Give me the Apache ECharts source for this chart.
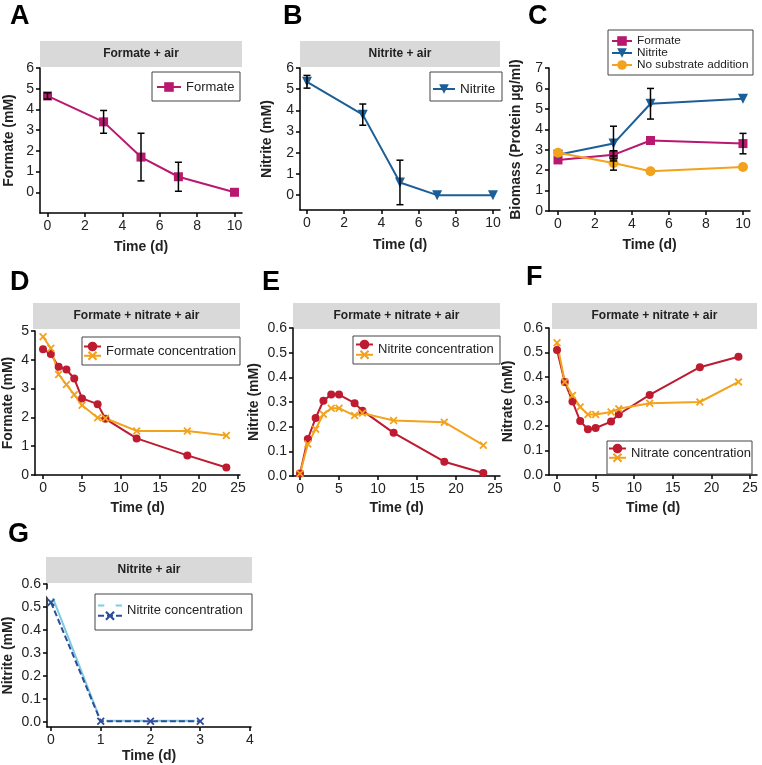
<!DOCTYPE html>
<html>
<head>
<meta charset="utf-8">
<script src="https://cdn.jsdelivr.net/npm/echarts@6/dist/echarts.min.js"></script>
<style>
  html, body { margin: 0; background: #fff; }
  #chart { width: 762px; height: 765px; }
</style>
</head>
<body>
<div id="chart"></div>
<script>
// ---- data ----
// A: formate + air
const timeA = [0, 3, 5, 7, 10];
const formateA = [4.65, 3.4, 1.7, 0.75, 0.0];
const formateAErr = [0.15, 0.55, 1.15, 0.7, 0];
// B: nitrite + air
const timeB = [0, 3, 5, 7, 10];
const nitriteB = [5.35, 3.8, 0.6, 0, 0];
const nitriteBErr = [0.3, 0.5, 1.05, 0, 0];
// C: biomass
const timeC = [0, 3, 5, 10];
const formateC = [2.5, 2.75, 3.45, 3.3];
const formateCErr = [0, 0.2, 0, 0.5];
const nitriteC = [2.75, 3.3, 5.25, 5.5];
const nitriteCErr = [0, 0.85, 0.75, 0];
const noSubC = [2.85, 2.35, 1.95, 2.15];
const noSubCErr = [0, 0.35, 0, 0];
// D-F: formate + nitrate + air
const timeDEF = [0, 1, 2, 3, 4, 5, 7, 8, 12, 18.5, 23.5];
const formateD1 = [4.37, 4.2, 3.76, 3.66, 3.35, 2.66, 2.46, 1.95, 1.27, 0.68, 0.26];
const formateD2 = [4.8, 4.4, 3.49, 3.14, 2.79, 2.42, 1.99, 1.97, 1.53, 1.53, 1.37];
const nitriteE1 = [0.01, 0.15, 0.235, 0.305, 0.33, 0.33, 0.295, 0.265, 0.175, 0.058, 0.012];
const nitriteE2 = [0.01, 0.13, 0.19, 0.25, 0.275, 0.275, 0.245, 0.255, 0.225, 0.218, 0.125];
const nitrateF1 = [0.51, 0.38, 0.3, 0.22, 0.187, 0.192, 0.218, 0.248, 0.327, 0.44, 0.483];
const nitrateF2 = [0.54, 0.38, 0.325, 0.278, 0.247, 0.247, 0.257, 0.27, 0.293, 0.298, 0.38];
// G: nitrite + air
const timeG = [0, 1, 2, 3];
const nitriteG1 = [0.56, 0.005, 0.005, 0.005];
const nitriteG2 = [0.52, 0.003, 0.003, 0.003];

// tick labels
const ticksTime10 = [0, 2, 4, 6, 8, 10];
const ticksTime25 = [0, 5, 10, 15, 20, 25];
const ticksTime4 = [0, 1, 2, 3, 4];
const ticksY5 = [0, 1, 2, 3, 4, 5];
const ticksY6 = [0, 1, 2, 3, 4, 5, 6];
const ticksY7 = [0, 1, 2, 3, 4, 5, 6, 7];
const ticksY06 = [0, 0.1, 0.2, 0.3, 0.4, 0.5, 0.6];

const FONT = '"Liberation Sans", Arial, sans-serif';
const MAGENTA = '#b8186f', BLUE = '#1b5e98', ORANGE = '#f3a21c', RED = '#be1a30';
const LIGHTBLUE = '#7fcbe0', DARKBLUE = '#2c4c9c';
const XMARK = 'path://M0,1.6 L1.6,0 L5,3.4 L8.4,0 L10,1.6 L6.6,5 L10,8.4 L8.4,10 L5,6.6 L1.6,10 L0,8.4 L3.4,5 Z';

const zip = (xs, ys) => xs.map((x, i) => [x, ys[i]]);
const errData = (xs, ys, es) => xs.map((x, i) => [x, ys[i] - es[i], ys[i] + es[i]]).filter((d, i) => es[i] > 0);

function xAxis(grid, min, max, ticks, gap) {
  return {
    type: 'value', gridIndex: grid, min, max,
    name: 'Time (d)', nameLocation: 'middle', nameGap: gap,
    nameTextStyle: { fontFamily: FONT, fontWeight: 'bold', fontSize: 14, color: '#222' },
    axisLine: { onZero: false, lineStyle: { color: '#000', width: 1.5 } },
    axisTick: { show: true, length: 4, customValues: ticks, lineStyle: { color: '#000', width: 1.5 } },
    axisLabel: { customValues: ticks, fontFamily: FONT, fontSize: 14, color: '#222', margin: 6 },
    splitLine: { show: false }
  };
}
function yAxis(grid, min, max, ticks, name, gap, decimals) {
  return {
    type: 'value', gridIndex: grid, min, max,
    name, nameLocation: 'middle', nameGap: gap,
    nameTextStyle: { fontFamily: FONT, fontWeight: 'bold', fontSize: 14, color: '#222' },
    axisLine: { onZero: false, lineStyle: { color: '#000', width: 1.5 } },
    axisTick: { show: true, length: 4, customValues: ticks, lineStyle: { color: '#000', width: 1.5 } },
    axisLabel: {
      customValues: ticks, fontFamily: FONT, fontSize: 14, color: '#222', margin: 6,
      formatter: v => decimals ? v.toFixed(1) : String(v)
    },
    splitLine: { show: false }
  };
}

function errorBars(params, api) {
  const x = api.value(0);
  const lo = api.coord([x, api.value(1)]);
  const hi = api.coord([x, api.value(2)]);
  const cap = 3.5;
  const style = { stroke: '#000', lineWidth: 1.5 };
  return {
    type: 'group', children: [
      { type: 'line', shape: { x1: lo[0], y1: lo[1], x2: hi[0], y2: hi[1] }, style },
      { type: 'line', shape: { x1: lo[0] - cap, y1: lo[1], x2: lo[0] + cap, y2: lo[1] }, style },
      { type: 'line', shape: { x1: hi[0] - cap, y1: hi[1], x2: hi[0] + cap, y2: hi[1] }, style }
    ]
  };
}
function errSeries(idx, data) {
  return { type: 'custom', xAxisIndex: idx, yAxisIndex: idx, renderItem: errorBars, data, z: 4, silent: true };
}
function line(idx, name, data, color, symbol, size, extra) {
  return Object.assign({
    type: 'line', name, xAxisIndex: idx, yAxisIndex: idx, data,
    symbol, symbolSize: size, color, lineStyle: { width: 2, color },
    itemStyle: { color }, z: 3, animation: false
  }, extra || {});
}

function header(x, y, w, h, text) {
  return {
    type: 'group', children: [
      { type: 'rect', shape: { x, y, width: w, height: h }, style: { fill: '#d9d9d9' } },
      { type: 'text', style: { x: x + w / 2, y: y + h / 2, text, align: 'center', verticalAlign: 'middle',
        font: 'bold 12px ' + FONT, fill: '#222' } }
    ]
  };
}
function letter(x, y, text) {
  return { type: 'text', style: { x, y, text, font: 'bold 27px ' + FONT, fill: '#000' } };
}
function box(x, y, w, h) {
  return { type: 'rect', shape: { x, y, width: w, height: h }, style: { fill: 'none', stroke: '#444', lineWidth: 1 }, z: 10 };
}

const legendText = { fontFamily: FONT, fontSize: 13, lineHeight: 14, color: '#222' };
function singleLegend(left, top, names, iconW, size, lh) {
  return {
    left, top, orient: 'vertical', data: names, padding: 0, itemGap: 0,
    itemWidth: iconW, itemHeight: 12, selectedMode: false,
    textStyle: Object.assign({}, legendText, { fontSize: size, lineHeight: lh || 14 })
  };
}
function pairLegend(left, c1, c2, iconW, name1, name2, label) {
  return [
    {
      left, top: c1 - 12, data: [name1], padding: 0, itemWidth: iconW, itemHeight: 12, selectedMode: false,
      formatter: () => '{t|' + label + '}',
      textStyle: { rich: { t: Object.assign({}, legendText, { padding: [10, 0, 0, 0] }) } }
    },
    {
      left, top: c2 - 6, data: [name2], padding: 0, itemWidth: iconW, itemHeight: 12, selectedMode: false,
      formatter: () => '', textStyle: legendText
    }
  ];
}

const chart = echarts.init(document.getElementById('chart'));

const option = {
  backgroundColor: '#fff',
  animation: false,
  grid: [
    { left: 40, top: 68, width: 202, height: 145 },   // A
    { left: 300, top: 68, width: 200, height: 142 },  // B
    { left: 549, top: 68, width: 201, height: 143 },  // C
    { left: 35, top: 331, width: 205, height: 144 },  // D
    { left: 293, top: 328, width: 207, height: 148 }, // E
    { left: 549, top: 328, width: 208, height: 147 }, // F
    { left: 46, top: 584, width: 205, height: 143 }   // G
  ],
  xAxis: [
    xAxis(0, -0.4, 10.4, ticksTime10, 27),
    xAxis(1, -0.376, 10.38, ticksTime10, 28),
    xAxis(2, -0.486, 10.38, ticksTime10, 27),
    xAxis(3, -1.03, 25.25, ticksTime25, 26),
    xAxis(4, -0.9, 25.64, ticksTime25, 25),
    xAxis(5, -1.04, 25.9, ticksTime25, 26),
    xAxis(6, -0.08, 4.02, ticksTime4, 22)
  ],
  yAxis: [
    yAxis(0, -1, 6, ticksY6, 'Formate (mM)', 24),
    yAxis(1, -0.7, 6, ticksY6, 'Nitrite (mM)', 26),
    yAxis(2, 0, 7, ticksY7, 'Biomass (Protein µg/ml)', 26),
    yAxis(3, 0, 5, ticksY5, 'Formate (mM)', 20),
    yAxis(4, 0, 0.6, ticksY06, 'Nitrite (mM)', 32, true),
    yAxis(5, 0, 0.6, ticksY06, 'Nitrate (mM)', 34, true),
    yAxis(6, -0.022, 0.6, ticksY06, 'Nitrite (mM)', 32, true)
  ],
  legend: [
    singleLegend(156, 80, ['Formate'], 24, 13),
    singleLegend(432, 82, ['Nitrite'], 22, 13.5),
    singleLegend(611, 35, ['Formate', 'Nitrite', 'No substrate addition'], 20, 11.8, 12),
    ...pairLegend(83, 347, 357, 17, 'Formate concentration', 'Formate concentration 2', 'Formate concentration'),
    ...pairLegend(355, 345, 356, 17, 'Nitrite concentration', 'Nitrite concentration 2', 'Nitrite concentration'),
    ...pairLegend(608, 449, 459, 17, 'Nitrate concentration', 'Nitrate concentration 2', 'Nitrate concentration'),
    ...pairLegend(97, 606, 617, 24, 'G nitrite 1', 'G nitrite 2', 'Nitrite concentration')
  ],
  graphic: [
    letter(10, 3, 'A'), letter(283, 3, 'B'), letter(528, 3, 'C'),
    letter(10, 269, 'D'), letter(262, 269, 'E'), letter(526, 264, 'F'),
    letter(8, 521, 'G'),
    header(40, 41, 202, 26, 'Formate + air'),
    header(300, 41, 200, 26, 'Nitrite + air'),
    header(33, 303, 207, 26, 'Formate + nitrate + air'),
    header(293, 303, 207, 26, 'Formate + nitrate + air'),
    header(552, 303, 205, 26, 'Formate + nitrate + air'),
    header(46, 557, 206, 26, 'Nitrite + air'),
    box(152, 72, 88, 29),
    box(430, 72, 72, 29),
    box(608, 30, 145, 45),
    box(82, 337, 158, 28),
    box(353, 336, 147, 28),
    box(607, 441, 145, 33),
    box(95, 594, 157, 36)
  ],
  series: [
    // A
    errSeries(0, errData(timeA, formateA, formateAErr)),
    line(0, 'Formate', zip(timeA, formateA), MAGENTA, 'rect', 9),
    // B
    errSeries(1, errData(timeB, nitriteB, nitriteBErr)),
    line(1, 'Nitrite', zip(timeB, nitriteB), BLUE, 'triangle', 10, { symbolRotate: 180 }),
    // C
    errSeries(2, errData(timeC, formateC, formateCErr)),
    errSeries(2, errData(timeC, nitriteC, nitriteCErr)),
    errSeries(2, errData(timeC, noSubC, noSubCErr)),
    line(2, 'Formate', zip(timeC, formateC), MAGENTA, 'rect', 9),
    line(2, 'Nitrite', zip(timeC, nitriteC), BLUE, 'triangle', 10, { symbolRotate: 180 }),
    line(2, 'No substrate addition', zip(timeC, noSubC), ORANGE, 'circle', 10),
    // D
    line(3, 'Formate concentration', zip(timeDEF, formateD1), RED, 'circle', 8),
    line(3, 'Formate concentration 2', zip(timeDEF, formateD2), ORANGE, XMARK, 8),
    // E
    line(4, 'Nitrite concentration', zip(timeDEF, nitriteE1), RED, 'circle', 8),
    line(4, 'Nitrite concentration 2', zip(timeDEF, nitriteE2), ORANGE, XMARK, 8),
    // F
    line(5, 'Nitrate concentration', zip(timeDEF, nitrateF1), RED, 'circle', 8),
    line(5, 'Nitrate concentration 2', zip(timeDEF, nitrateF2), ORANGE, XMARK, 8),
    // G
    line(6, 'G nitrite 1', zip(timeG, nitriteG1), LIGHTBLUE, 'emptyCircle', 9,
      { lineStyle: { width: 2, color: LIGHTBLUE }, itemStyle: { color: '#fff', borderColor: LIGHTBLUE, borderWidth: 1.5 } }),
    line(6, 'G nitrite 2', zip(timeG, nitriteG2), DARKBLUE, XMARK, 8,
      { lineStyle: { width: 2, color: DARKBLUE, type: [6, 3] }, z: 4 })
  ]
};

chart.setOption(option);
</script>
</body>
</html>
